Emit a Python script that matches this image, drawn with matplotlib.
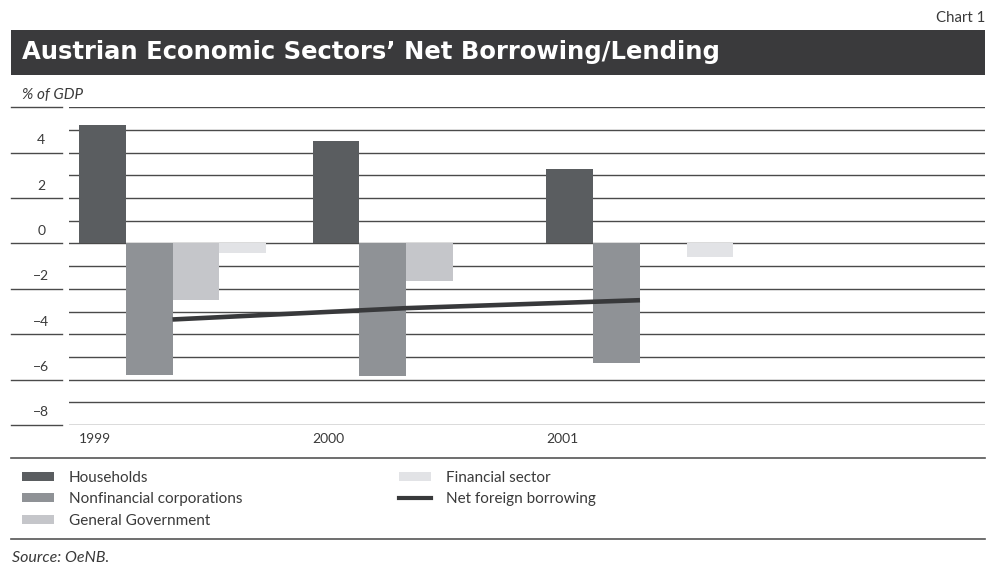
import matplotlib
matplotlib.use("Agg")
import matplotlib.pyplot as plt
import numpy as np
from matplotlib.patches import Rectangle, Patch
from matplotlib.lines import Line2D
from matplotlib.transforms import ScaledTranslation, blended_transform_factory

# % of GDP
years = ["1999", "2000", "2001"]
households = [5.2, 4.5, 3.3]
nonfinancial = [-5.8, -5.85, -5.25]
government = [-2.5, -1.65, 0.0]
financial = [-0.4, 0.0, -0.6]
net_foreign = [-3.35, -2.85, -2.5]

series = [
    ("Households", households, "#5a5d60"),
    ("Nonfinancial corporations", nonfinancial, "#8f9296"),
    ("General Government", government, "#c5c6ca"),
    ("Financial sector", financial, "#e2e3e6"),
]

W, H = 990, 566
plt.rcParams["font.family"] = ["Lato", "DejaVu Sans"]
fig = plt.figure(figsize=(W / 100, H / 100), dpi=100)

def fx(px):
    return px / W

def fy(py):
    return 1 - py / H

ax = fig.add_axes([fx(69), fy(425), fx(985) - fx(69), (425 - 107.3) / H])

group_x = np.arange(len(years)) * 5
for k, (name, vals, col) in enumerate(series):
    ax.bar(group_x + k, vals, width=1, align="edge", color=col, zorder=2, label=name)
ax.plot(group_x + 2, net_foreign, color="#38393b", lw=3.3, zorder=3,
        solid_capstyle="butt", label="Net foreign borrowing")

ax.set_xlim(-0.214, 19.38)
ax.set_ylim(-8, 6)
ax.set_yticks(np.arange(-8, 7, 2))
ax.set_yticklabels(["\u22128", "\u22126", "\u22124", "\u22122", "0", "2", "4", ""])
ax.set_yticks(np.arange(-8, 7, 1), minor=True)
ax.grid(axis="y", which="both", color="#4a4a4a", lw=1.0, zorder=0)
ax.set_axisbelow(True)
for s in ax.spines.values():
    s.set_visible(False)

ax.tick_params(axis="y", which="both", length=0, pad=20, labelsize=10,
               labelcolor="#3a3a3a")
shift = ScaledTranslation(0, 0.135, fig.dpi_scale_trans)
for lab in ax.get_yticklabels():
    lab.set_horizontalalignment("center")
    lab.set_transform(lab.get_transform() + shift)

ax.set_xticks(group_x)
ax.set_xticklabels(years)
ax.tick_params(axis="x", length=0, pad=6, labelsize=10, labelcolor="#3a3a3a")
for lab in ax.get_xticklabels():
    lab.set_horizontalalignment("left")

# short rules next to the value labels
trans = blended_transform_factory(fig.transFigure, ax.transData)
for v in np.arange(-8, 7, 2):
    ax.plot([fx(11), fx(62)], [v, v], color="#4a4a4a", lw=1.0,
            transform=trans, clip_on=False)

# title bar
fig.add_artist(Rectangle((fx(11), fy(75)), fx(985) - fx(11), 45 / H,
                         transform=fig.transFigure, color="#3a3a3c", lw=0))
fig.text(fx(22), fy(59), "Austrian Economic Sectors\u2019 Net Borrowing/Lending",
         color="white", fontsize=17.5, fontweight="bold", family="DejaVu Sans",
         va="baseline", ha="left")
fig.text(fx(985), fy(17.5), "Chart 1", fontsize=10.8, color="#3a3a3a",
         ha="right", va="center")
fig.text(fx(22), fy(95), "% of GDP", fontsize=11, style="italic",
         color="#3a3a3a", ha="left", va="center")

# separator rules
for yy in (458, 539):
    fig.add_artist(Line2D([fx(11), fx(985)], [fy(yy), fy(yy)],
                          transform=fig.transFigure, color="#555555", lw=1.2))

handles = [Patch(color=c, lw=0) for _, _, c in series]
handles.append(Line2D([], [], color="#38393b", lw=3.0))
labels = [n for n, _, _ in series] + ["Net foreign borrowing"]
fig.legend(handles, labels, ncol=2, loc="upper left",
           bbox_to_anchor=(fx(22), fy(470.5)), frameon=False, fontsize=11,
           borderpad=0, borderaxespad=0, handlelength=2.07, handleheight=0.54,
           handletextpad=0.98, labelspacing=0.5, columnspacing=10.3,
           labelcolor="#3a3a3a")

fig.text(fx(12), fy(557.5), "Source: OeNB.", fontsize=11.5, style="italic",
         color="#3a3a3a", ha="left", va="center")

fig.savefig("out.png", dpi=100)
